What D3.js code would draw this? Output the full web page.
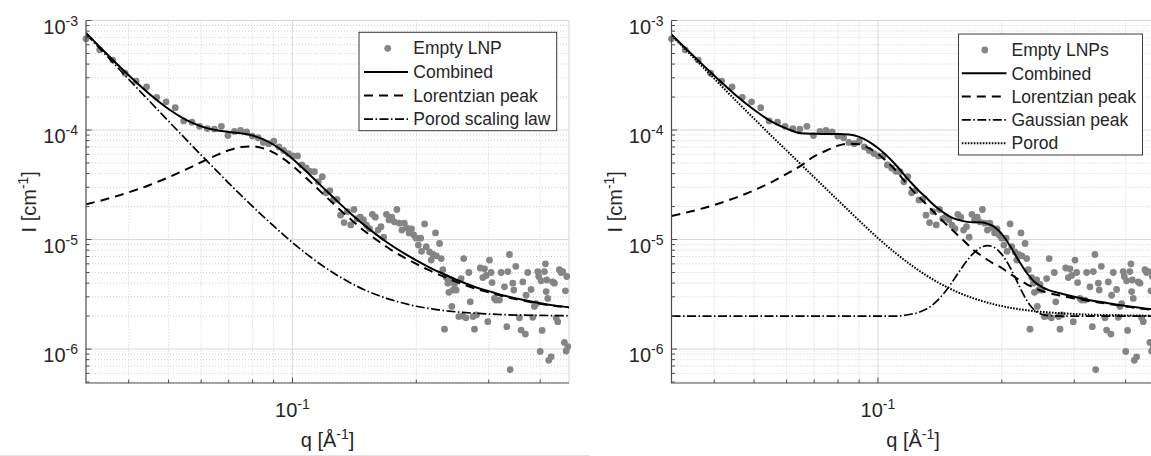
<!DOCTYPE html>
<html>
<head>
<meta charset="utf-8">
<script src="https://cdn.jsdelivr.net/npm/d3@7"></script>
<style>
  body { margin: 0; background: #fff; }
  svg { display: block; font-family: 'Liberation Sans', Arial, Helvetica, sans-serif; }
</style>
</head>
<body>
<div id="chart"></div>
<script>
// measured points, shared by both panels (q in 1/Å, I in 1/cm)
const qData = [
  0.0315, 0.0340, 0.0366, 0.0392, 0.0417, 0.0442, 0.0468, 0.0493, 0.0519, 0.0544,
  0.0570, 0.0595, 0.0621, 0.0646, 0.0672, 0.0697, 0.0723, 0.0748, 0.0774, 0.0799,
  0.0825, 0.0850, 0.0876, 0.0901, 0.0927, 0.0952, 0.0978, 0.1003, 0.1029, 0.1054,
  0.1080, 0.1105, 0.1131, 0.1156, 0.1182, 0.1207, 0.1233, 0.1258, 0.1284, 0.1309,
  0.1335, 0.1360, 0.1386, 0.1411, 0.1437, 0.1462, 0.1488, 0.1513, 0.1539, 0.1564,
  0.1590, 0.1615, 0.1641, 0.1666, 0.1692, 0.1717, 0.1743, 0.1768, 0.1794, 0.1819,
  0.1845, 0.1870, 0.1896, 0.1921, 0.1947, 0.1972, 0.1998, 0.2023, 0.2049, 0.2060,
  0.2095, 0.2115, 0.2154, 0.2174, 0.2195, 0.2227, 0.2237, 0.2278, 0.2299, 0.2320,
  0.2342, 0.2365, 0.2387, 0.2400, 0.2431, 0.2440, 0.2455, 0.2477, 0.2500, 0.2537,
  0.2570, 0.2595, 0.2607, 0.2640, 0.2683, 0.2705, 0.2747, 0.2770, 0.2800, 0.2860,
  0.2902, 0.2929, 0.2957, 0.2984, 0.3012, 0.3040, 0.3057, 0.3097, 0.3126, 0.3185,
  0.3215, 0.3275, 0.3319, 0.3337, 0.3368, 0.3381, 0.3432, 0.3450, 0.3490, 0.3562,
  0.3595, 0.3629, 0.3683, 0.3697, 0.3732, 0.3802, 0.3838, 0.3873, 0.3910, 0.3946,
  0.3968, 0.4000, 0.4020, 0.4043, 0.4096, 0.4119, 0.4135, 0.4150, 0.4173, 0.4197,
  0.4253, 0.4292, 0.4332, 0.4373, 0.4414, 0.4455, 0.4497, 0.4539, 0.4581, 0.4607,
  0.4625, 0.4642, 0.4668,
]
const iData = [
  6.8e-4, 5.4e-4, 4.35e-4, 3.3e-4, 2.8e-4, 2.47e-4, 1.99e-4, 1.81e-4, 1.6e-4, 1.21e-4,
  1.18e-4, 1.08e-4, 1.03e-4, 1.02e-4, 1.08e-4, 8.9e-5, 9.7e-5, 9.9e-5, 9.6e-5, 8.8e-5,
  8.5e-5, 7.7e-5, 7.5e-5, 7.9e-5, 7.0e-5, 6.5e-5, 6.1e-5, 5.8e-5, 5.8e-5, 4.8e-5,
  4.5e-5, 4.2e-5, 4.16e-5, 3.37e-5, 3.75e-5, 2.67e-5, 2.8e-5, 2.3e-5, 2.33e-5, 1.67e-5,
  1.43e-5, 1.8e-5, 1.36e-5, 1.88e-5, 1.55e-5, 1.6e-5, 1.51e-5, 1.35e-5, 1.26e-5, 1.7e-5,
  1.6e-5, 1.22e-5, 1.31e-5, 1.05e-5, 1.7e-5, 1.51e-5, 1.6e-5, 1.45e-5, 1.88e-5, 1.41e-5,
  1.22e-5, 1.41e-5, 1.28e-5, 1.15e-5, 1.25e-5, 1.1e-5, 1.03e-5, 8.9e-6, 1.03e-5, 7.8e-6,
  1.39e-5, 8.6e-6, 7.7e-6, 6.5e-6, 7.3e-6, 1.15e-5, 7.1e-6, 9.2e-6, 6.7e-6, 5.3e-6,
  1.52e-6, 4.5e-6, 4.0e-6, 3.3e-6, 4.27e-6, 2.45e-6, 3.46e-6, 3.9e-6, 3.46e-6, 1.98e-6,
  4.4e-6, 2.0e-6, 6.7e-6, 1.93e-6, 5.0e-6, 2.7e-6, 1.98e-6, 1.52e-6, 2.05e-6, 5.5e-6,
  4.5e-6, 5.4e-6, 4.7e-6, 1.78e-6, 6.5e-6, 5.0e-6, 4.05e-6, 2.9e-6, 2.8e-6, 2.8e-6,
  5.0e-6, 3.7e-6, 1.6e-6, 5.1e-6, 7.3e-6, 6.5e-7, 4.0e-6, 3.46e-6, 5.7e-6, 1.93e-6,
  1.49e-6, 4.1e-6, 1.37e-6, 3.1e-6, 5.0e-6, 3.5e-6, 1.95e-6, 2.45e-6, 2.6e-6, 5.1e-6,
  4.6e-6, 9.5e-7, 4.2e-6, 1.48e-6, 5.1e-6, 6.0e-6, 3.35e-6, 4.27e-6, 2.9e-6, 7.9e-7,
  8.5e-7, 4.1e-6, 4.0e-6, 1.93e-6, 1.78e-6, 5.3e-6, 5.0e-6, 5.1e-6, 1.15e-6, 3.4e-6,
  9.6e-7, 4.6e-6, 1.05e-6,
]

// left panel fit curves
const qFitL = [
  0.0315, 0.035, 0.04, 0.045, 0.05, 0.055, 0.06, 0.065, 0.07, 0.075, 0.08, 0.085, 0.09,
  0.095, 0.10, 0.11, 0.12, 0.13, 0.14, 0.15, 0.16, 0.17, 0.18, 0.19, 0.20, 0.21, 0.22,
  0.23, 0.24, 0.26, 0.28, 0.30, 0.33, 0.36, 0.40, 0.44, 0.47,
]
const combL = [
  7.73e-4, 5.16e-4, 3.16e-4, 2.12e-4, 1.554e-4, 1.243e-4, 1.079e-4, 9.99e-5, 9.61e-5, 9.32e-5,
  8.90e-5, 8.22e-5, 7.34e-5, 6.39e-5, 5.46e-5, 3.93e-5, 2.86e-5, 2.15e-5, 1.67e-5, 1.34e-5,
  1.11e-5, 9.4e-6, 8.15e-6, 7.2e-6, 6.45e-6, 5.85e-6, 5.35e-6, 4.95e-6, 4.6e-6, 4.05e-6,
  3.65e-6, 3.38e-6, 3.05e-6, 2.83e-6, 2.62e-6, 2.48e-6, 2.41e-6,
]
const lorL = [
  2.10e-5, 2.32e-5, 2.70e-5, 3.15e-5, 3.70e-5, 4.35e-5, 5.08e-5, 5.84e-5, 6.53e-5, 6.99e-5,
  7.09e-5, 6.80e-5, 6.22e-5, 5.48e-5, 4.72e-5, 3.42e-5, 2.51e-5, 1.89e-5, 1.48e-5, 1.19e-5,
  9.95e-6, 8.5e-6, 7.42e-6, 6.63e-6, 5.99e-6, 5.47e-6, 5.03e-6, 4.69e-6, 4.38e-6, 3.89e-6,
  3.53e-6, 3.29e-6, 2.99e-6, 2.79e-6, 2.59e-6, 2.46e-6, 2.395e-6,
]
const porL = [
  7.54e-4, 4.95e-4, 2.91e-4, 1.825e-4, 1.204e-4, 8.29e-5, 5.91e-5, 4.35e-5, 3.28e-5, 2.54e-5,
  2.01e-5, 1.62e-5, 1.33e-5, 1.11e-5, 9.40e-6, 7.05e-6, 5.57e-6, 4.59e-6, 3.93e-6, 3.46e-6,
  3.13e-6, 2.89e-6, 2.71e-6, 2.57e-6, 2.46e-6, 2.38e-6, 2.32e-6, 2.26e-6, 2.22e-6, 2.16e-6,
  2.12e-6, 2.09e-6, 2.06e-6, 2.04e-6, 2.03e-6, 2.02e-6, 2.015e-6,
]

// right panel fit curves
const qFitR = [
  0.0315, 0.035, 0.04, 0.045, 0.05, 0.055, 0.06, 0.065, 0.07, 0.075, 0.08, 0.085, 0.09,
  0.095, 0.10, 0.11, 0.12, 0.125, 0.13, 0.135, 0.14, 0.145, 0.15, 0.155, 0.16, 0.165,
  0.17, 0.175, 0.18, 0.185, 0.19, 0.195, 0.20, 0.205, 0.21, 0.215, 0.22, 0.225, 0.23,
  0.235, 0.24, 0.25, 0.26, 0.28, 0.30, 0.33, 0.36, 0.40, 0.44, 0.47,
]
const combR = [
  7.44e-4, 5.06e-4, 3.14e-4, 2.1e-4, 1.53e-4, 1.2e-4, 1.03e-4, 9.35e-5, 9.25e-5, 9.2e-5,
  9.2e-5, 9.1e-5, 8.65e-5, 7.85e-5, 6.85e-5, 4.9e-5, 3.35e-5, 2.85e-5, 2.48e-5, 2.16e-5,
  1.92e-5, 1.74e-5, 1.61e-5, 1.53e-5, 1.48e-5, 1.45e-5, 1.44e-5, 1.44e-5, 1.43e-5, 1.39e-5,
  1.33e-5, 1.24e-5, 1.12e-5, 9.9e-6, 8.6e-6, 7.4e-6, 6.4e-6, 5.6e-6, 4.95e-6, 4.5e-6,
  4.12e-6, 3.7e-6, 3.45e-6, 3.2e-6, 3.0e-6, 2.78e-6, 2.64e-6, 2.48e-6, 2.36e-6, 2.3e-6,
]
const lorR = [
  1.64e-5, 1.80e-5, 2.07e-5, 2.40e-5, 2.82e-5, 3.33e-5, 3.97e-5, 4.73e-5, 5.75e-5, 6.5e-5,
  7.2e-5, 7.5e-5, 7.4e-5, 6.85e-5, 6.05e-5, 4.35e-5, 2.95e-5, 2.5e-5, 2.17e-5, 1.87e-5,
  1.63e-5, 1.43e-5, 1.27e-5, 1.13e-5, 1.01e-5, 9.05e-6, 8.1e-6, 7.5e-6, 7.0e-6, 6.5e-6,
  6.1e-6, 5.8e-6, 5.5e-6, 5.15e-6, 4.85e-6, 4.55e-6, 4.3e-6, 4.1e-6, 3.9e-6, 3.75e-6,
  3.6e-6, 3.4e-6, 3.25e-6, 3.05e-6, 2.9e-6, 2.72e-6, 2.6e-6, 2.45e-6, 2.33e-6, 2.28e-6,
]
const gauR = [
  2e-6, 2e-6, 2e-6, 2e-6, 2e-6, 2e-6, 2e-6, 2e-6, 2e-6, 2e-6,
  2e-6, 2e-6, 2e-6, 2e-6, 2e-6, 2e-6, 2.08e-6, 2.15e-6, 2.28e-6, 2.49e-6,
  2.81e-6, 3.27e-6, 3.88e-6, 4.65e-6, 5.54e-6, 6.49e-6, 7.39e-6, 8.14e-6, 8.64e-6, 8.8e-6,
  8.61e-6, 8.09e-6, 7.32e-6, 6.41e-6, 5.47e-6, 4.58e-6, 3.83e-6, 3.22e-6, 2.78e-6, 2.47e-6,
  2.27e-6, 2.08e-6, 2.02e-6, 2e-6, 2e-6, 2e-6, 2e-6, 2e-6, 2e-6, 2e-6,
]
const porR = [
  7.3e-4, 4.9e-4, 2.95e-4, 1.88e-4, 1.27e-4, 8.9e-5, 6.5e-5, 4.85e-5, 3.7e-5, 2.88e-5,
  2.28e-5, 1.83e-5, 1.49e-5, 1.23e-5, 1.03e-5, 7.6e-6, 5.9e-6, 5.3e-6, 4.8e-6, 4.4e-6,
  4.05e-6, 3.78e-6, 3.55e-6, 3.35e-6, 3.18e-6, 3.04e-6, 2.92e-6, 2.82e-6, 2.73e-6, 2.65e-6,
  2.58e-6, 2.52e-6, 2.47e-6, 2.42e-6, 2.38e-6, 2.345e-6, 2.315e-6, 2.29e-6, 2.265e-6, 2.24e-6,
  2.22e-6, 2.19e-6, 2.16e-6, 2.12e-6, 2.09e-6, 2.06e-6, 2.043e-6, 2.029e-6, 2.019e-6, 2.015e-6,
]

const Q_DOMAIN = [0.0315, 0.47]
const I_DOMAIN = [4.9e-7, 1e-3]
const legendL = ['Empty LNP', 'Combined', 'Lorentzian peak', 'Porod scaling law']
const legendR = ['Empty LNPs', 'Combined', 'Lorentzian peak', 'Gaussian peak', 'Porod']

const W = 1151
const H = 456
const PLOT_TOP = 20.5
const PLOT_W = 483
const PLOT_H = 362.5
const TEXT = '#262626'
const AXIS = '#4d4d4d'
const DOT = '#858585'

const STYLES = {
  solid: { width: 2, dash: null },
  dashed: { width: 2, dash: '9,6' },
  dashdot: { width: 1.7, dash: '9,2.5,1.5,2.5' },
  dotted: { width: 2, dash: '1.6,1.4' },
}

const zip = (qs, vs) => qs.map((q, i) => [q, vs[i]])

const panels = [
  {
    left: 86,
    legend: { x: 273, y: 11.8, w: 197.7, h: 98.4, step: 23.6, line: [5, 49], dot: 28.7, text: 54.3 },
    labels: legendL,
    series: [
      { pts: zip(qFitL, combL), style: 'solid' },
      { pts: zip(qFitL, lorL), style: 'dashed' },
      { pts: zip(qFitL, porL), style: 'dashdot' },
    ],
  },
  {
    left: 671.5,
    legend: { x: 287, y: 13.5, w: 184, h: 121, step: 23.3, line: [3.3, 48], dot: 26.3, text: 53 },
    labels: legendR,
    series: [
      { pts: zip(qFitR, combR), style: 'solid' },
      { pts: zip(qFitR, lorR), style: 'dashed' },
      { pts: zip(qFitR, gauR), style: 'dashdot' },
      { pts: zip(qFitR, porR), style: 'dotted' },
    ],
  },
]

const x = d3.scaleLog().domain(Q_DOMAIN).range([0, PLOT_W])
const y = d3.scaleLog().domain(I_DOMAIN).range([PLOT_H, 0])
const isDecade = (v) => Math.abs(Math.log10(v) - Math.round(Math.log10(v))) < 1e-9
const xTicks = x.ticks()
const yTicks = y.ticks()

const svg = d3.select('#chart').append('svg')
  .attr('width', W)
  .attr('height', H)
  .attr('viewBox', `0 0 ${W} ${H}`)

// faint rule along the bottom left of the original figure
svg.append('line')
  .attr('x1', 0).attr('x2', 590).attr('y1', 455.5).attr('y2', 455.5)
  .attr('stroke', '#e4e4e4')

function powLabel(sel, expText) {
  sel.append('tspan').text('10')
  sel.append('tspan').attr('dy', -8).attr('font-size', 14).text(expText)
}

panels.forEach((p, pi) => {
  const g = svg.append('g').attr('transform', `translate(${p.left},${PLOT_TOP})`)

  // grid
  const grid = g.append('g')
  grid.selectAll('line.gy')
    .data(yTicks)
    .join('line')
    .attr('x1', 0).attr('x2', PLOT_W)
    .attr('y1', (d) => y(d)).attr('y2', (d) => y(d))
    .attr('stroke', (d) => (isDecade(d) ? '#d9d9d9' : '#cfcfcf'))
    .attr('stroke-dasharray', (d) => (isDecade(d) ? null : '1,2'))
    .attr('stroke-width', 1)
  grid.selectAll('line.gx')
    .data(xTicks)
    .join('line')
    .attr('x1', (d) => x(d)).attr('x2', (d) => x(d))
    .attr('y1', 0).attr('y2', PLOT_H)
    .attr('stroke', (d) => (isDecade(d) ? '#d9d9d9' : '#cfcfcf'))
    .attr('stroke-dasharray', (d) => (isDecade(d) ? null : '1,2'))
    .attr('stroke-width', 1)

  // top / right box edges are light
  g.append('path')
    .attr('d', `M0,0H${PLOT_W}V${PLOT_H}`)
    .attr('fill', 'none')
    .attr('stroke', '#d4d4d4')

  const clipId = `clip${pi}`
  g.append('clipPath').attr('id', clipId)
    .append('rect').attr('width', PLOT_W).attr('height', PLOT_H)

  // data
  g.append('g')
    .selectAll('circle')
    .data(zip(qData, iData))
    .join('circle')
    .attr('cx', (d) => x(d[0]))
    .attr('cy', (d) => y(d[1]))
    .attr('r', 3.4)
    .attr('fill', DOT)

  // fits
  const line = d3.line()
    .x((d) => x(d[0]))
    .y((d) => y(d[1]))
    .curve(d3.curveMonotoneX)
  const fits = g.append('g').attr('clip-path', `url(#${clipId})`)
  p.series.forEach((s) => {
    const st = STYLES[s.style]
    fits.append('path')
      .attr('d', line(s.pts))
      .attr('fill', 'none')
      .attr('stroke', '#000')
      .attr('stroke-width', st.width)
      .attr('stroke-dasharray', st.dash)
  })

  // axes
  g.append('path')
    .attr('d', `M0,0V${PLOT_H}H${PLOT_W}`)
    .attr('fill', 'none')
    .attr('stroke', AXIS)
    .attr('stroke-width', 1.2)
  g.append('g').selectAll('line')
    .data(yTicks)
    .join('line')
    .attr('x1', 0).attr('x2', (d) => (isDecade(d) ? 5.5 : 3.5))
    .attr('y1', (d) => y(d)).attr('y2', (d) => y(d))
    .attr('stroke', AXIS)
  g.append('g').selectAll('line')
    .data(xTicks)
    .join('line')
    .attr('x1', (d) => x(d)).attr('x2', (d) => x(d))
    .attr('y1', PLOT_H).attr('y2', (d) => PLOT_H - (isDecade(d) ? 5.5 : 3.5))
    .attr('stroke', AXIS)

  // tick labels
  g.append('g')
    .selectAll('text')
    .data(yTicks.filter(isDecade))
    .join('text')
    .attr('x', -8)
    .attr('y', (d) => y(d) + 13)
    .attr('text-anchor', 'end')
    .attr('font-size', 20)
    .attr('fill', TEXT)
    .each(function (d) { powLabel(d3.select(this), String(Math.round(Math.log10(d)))) })
  g.append('g')
    .selectAll('text')
    .data(xTicks.filter(isDecade))
    .join('text')
    .attr('x', (d) => x(d))
    .attr('y', PLOT_H + 34)
    .attr('text-anchor', 'middle')
    .attr('font-size', 20)
    .attr('fill', TEXT)
    .each(function (d) { powLabel(d3.select(this), String(Math.round(Math.log10(d)))) })

  // axis titles
  const xt = g.append('text')
    .attr('x', PLOT_W / 2)
    .attr('y', PLOT_H + 64)
    .attr('text-anchor', 'middle')
    .attr('font-size', 20)
    .attr('fill', TEXT)
  xt.append('tspan').text('q [Å')
  xt.append('tspan').attr('dy', -8).attr('font-size', 14).text('-1')
  xt.append('tspan').attr('dy', 8).text(']')

  const yt = g.append('text')
    .attr('transform', `translate(-50,${PLOT_H / 2}) rotate(-90)`)
    .attr('text-anchor', 'middle')
    .attr('font-size', 20)
    .attr('fill', TEXT)
  yt.append('tspan').text('I [cm')
  yt.append('tspan').attr('dy', -8).attr('font-size', 14).text('-1')
  yt.append('tspan').attr('dy', 8).text(']')

  // legend
  const L = p.legend
  const lg = g.append('g').attr('transform', `translate(${L.x},${L.y})`)
  lg.append('rect')
    .attr('width', L.w).attr('height', L.h)
    .attr('fill', '#fff')
    .attr('stroke', '#3a3a3a')
    .attr('stroke-width', 1)
  p.labels.forEach((label, i) => {
    const cy = 16 + i * L.step
    if (i === 0) {
      lg.append('circle').attr('cx', L.dot).attr('cy', cy).attr('r', 3.4).attr('fill', DOT)
    } else {
      const st = STYLES[p.series[i - 1].style]
      lg.append('line')
        .attr('x1', L.line[0]).attr('x2', L.line[1])
        .attr('y1', cy).attr('y2', cy)
        .attr('stroke', '#000')
        .attr('stroke-width', st.width)
        .attr('stroke-dasharray', st.dash)
    }
    lg.append('text')
      .attr('x', L.text)
      .attr('y', cy + 6.2)
      .attr('font-size', 17.5)
      .attr('fill', TEXT)
      .text(label)
  })
})
</script>
</body>
</html>
